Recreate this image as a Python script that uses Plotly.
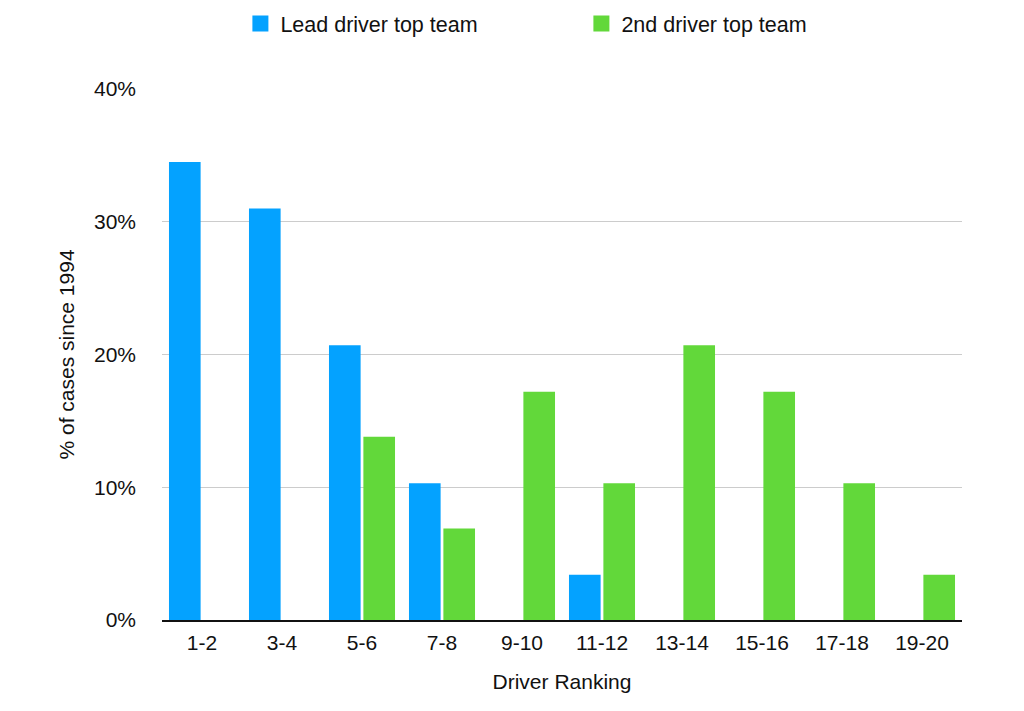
import plotly.graph_objects as go

categories = ["1-2", "3-4", "5-6", "7-8", "9-10", "11-12", "13-14", "15-16", "17-18", "19-20"]
lead_driver = [34.5, 31.0, 20.7, 10.3, 0, 3.4, 0, 0, 0, 0]
second_driver = [0, 0, 13.8, 6.9, 17.2, 10.3, 20.7, 17.2, 10.3, 3.4]
y_ticks = [0, 10, 20, 30, 40]
y_tick_labels = ["0%", "10%", "20%", "30%", "40%"]
series_names = ["Lead driver top team", "2nd driver top team"]
series_colors = ["#04A2FF", "#62D83A"]

FONT = "Liberation Sans, Arial, sans-serif"

fig = go.Figure()
for vals, name, color in zip([lead_driver, second_driver], series_names, series_colors):
    fig.add_trace(go.Bar(x=categories, y=vals, name=name, showlegend=False,
                         marker=dict(color=color, line=dict(width=0))))
# legend entries with larger square swatches
for name, color in zip(series_names, series_colors):
    fig.add_trace(go.Scatter(x=[None], y=[None], mode="markers", name=name,
                             marker=dict(symbol="square", size=16, color=color,
                                         line=dict(width=0))))

# page body has an 8px margin, so the figure is sized/offset to compensate
fig.update_layout(
    width=1016, height=703,
    paper_bgcolor="white", plot_bgcolor="white",
    margin=dict(l=154, r=62, t=81, b=91, autoexpand=False),
    barmode="group", bargap=0.14, bargroupgap=0.08,
    font=dict(family=FONT, size=21, color="#111111"),
    showlegend=True,
    legend=dict(orientation="h", x=0.098, xanchor="left", y=1.162, yanchor="top",
                yref="paper", font=dict(size=21.5),
                entrywidth=296, entrywidthmode="pixels", itemsizing="trace"),
    xaxis=dict(type="category", showgrid=False, showline=True, linecolor="#111111",
               linewidth=2, ticks="", ticklabelstandoff=3, automargin=False,
               tickfont=dict(size=21),
               title=dict(text="Driver Ranking", font=dict(size=21), standoff=21)),
    yaxis=dict(range=[0, 40], tickvals=y_ticks, ticktext=y_tick_labels,
               showgrid=True, gridcolor="#CCCCCC", gridwidth=1, automargin=False,
               zeroline=False, showline=False, ticks="", ticklabelstandoff=25,
               tickfont=dict(size=21),
               title=dict(text="% of cases since 1994", font=dict(size=21), standoff=13)),
)

fig.write_html("out.html")
